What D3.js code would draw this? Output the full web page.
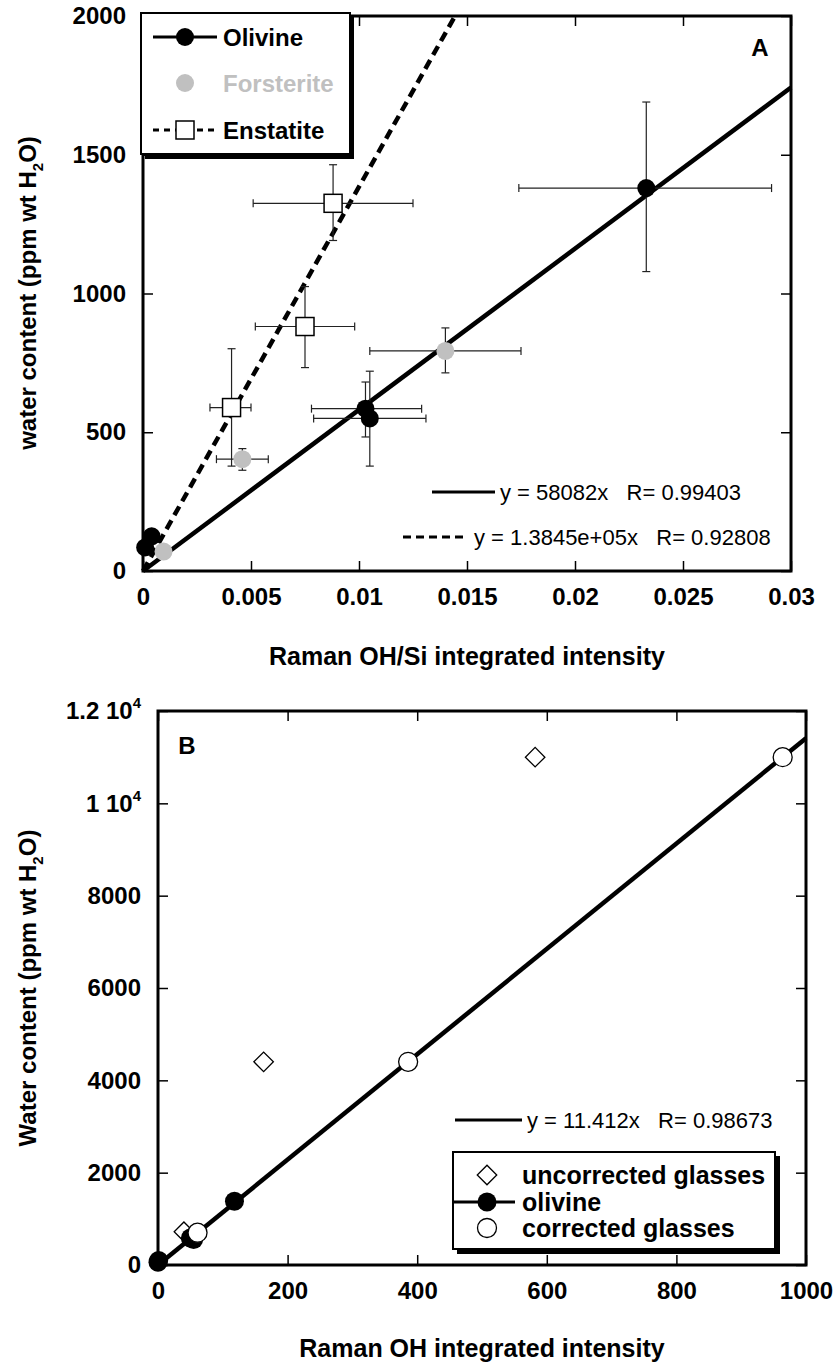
<!DOCTYPE html>
<html>
<head>
<meta charset="utf-8">
<script src="https://cdn.jsdelivr.net/npm/d3@7"></script>
<style>
body { margin: 0; background: #fff; }
svg { display: block; font-family: "Liberation Sans", Arial, sans-serif; }
</style>
</head>
<body>
<script>
// ---- panel A data : [x, y, xLow, xHigh, yLow, yHigh] ----
var olivineA = [
  [0.0001, 85], [0.0004, 125],
  [0.0103, 585, 0.0078, 0.0129, 483, 681],
  [0.0105, 550, 0.0079, 0.0131, 378, 720],
  [0.0233, 1380, 0.0174, 0.0291, 1079, 1690]
];
var forsteriteA = [
  [0.00095, 70],
  [0.0046, 403, 0.0034, 0.0058, 363, 441],
  [0.0140, 793, 0.0105, 0.0175, 714, 876]
];
var enstatiteA = [
  [0.0041, 589, 0.0031, 0.0050, 378, 801],
  [0.0075, 881, 0.0052, 0.0098, 733, 1025],
  [0.0088, 1325, 0.0051, 0.0125, 1191, 1464]
];
var slopeOlivineA = 58082;
var slopeEnstatiteA = 1.3845e5;
var xTicksA = [0, 0.005, 0.01, 0.015, 0.02, 0.025, 0.03];
var xTickLabelsA = ["0", "0.005", "0.01", "0.015", "0.02", "0.025", "0.03"];
var yTicksA = [0, 500, 1000, 1500, 2000];
var yTickLabelsA = ["0", "500", "1000", "1500", "2000"];

// ---- panel B data : [x, y] ----
var uncorrectedB = [[40, 720], [163, 4400], [582, 11000]];
var olivineB = [[0, 60], [1, 100], [50, 585], [55, 550], [118, 1380]];
var correctedB = [[61, 700], [386, 4400], [964, 11000]];
var slopeB = 11.412;
var xTicksB = [0, 200, 400, 600, 800, 1000];
var xTickLabelsB = ["0", "200", "400", "600", "800", "1000"];
var yTicksB = [0, 2000, 4000, 6000, 8000, 10000, 12000];
var yTickLabelsB = ["0", "2000", "4000", "6000", "8000", "1 10^4", "1.2 10^4"];

var GRAY = "#c0c0c0";

var svg = d3.select("body").append("svg")
  .attr("width", 835)
  .attr("height", 1364);

// tick label with optional superscript written as "a^b"
function writeLabel(sel, s) {
  var parts = s.split("^");
  sel.text(parts[0]);
  if (parts.length > 1) {
    sel.append("tspan").attr("dy", -11).attr("font-size", 15).text(parts[1]);
  }
}

// four-sided frame with inner ticks
function drawFrame(g, x, y, xt, xl, yt, yl) {
  var x0 = x.range()[0], x1 = x.range()[1];
  var y0 = y.range()[0], y1 = y.range()[1];

  var axes = [
    [d3.axisBottom(x).tickValues(xt), "translate(0," + y0 + ")", xl],
    [d3.axisTop(x).tickValues(xt), "translate(0," + y1 + ")", null],
    [d3.axisLeft(y).tickValues(yt), "translate(" + x0 + ",0)", yl],
    [d3.axisRight(y).tickValues(yt), "translate(" + x1 + ",0)", null]
  ];
  axes.forEach(function(a) {
    var ax = a[0].tickSizeInner(-10).tickSizeOuter(0).tickPadding(17);
    var ag = g.append("g").attr("transform", a[1]).call(ax);
    ag.select(".domain").remove();
    ag.selectAll(".tick line").attr("stroke", "#000").attr("stroke-width", 1.5);
    var labels = a[2];
    ag.selectAll(".tick text")
      .attr("font-size", 24)
      .attr("font-weight", "bold")
      .attr("fill", "#000")
      .attr("font-family", "Liberation Sans, Arial, sans-serif")
      .each(function(d, i) {
        if (labels) writeLabel(d3.select(this), labels[i]);
        else d3.select(this).remove();
      });
  });

  g.append("rect")
    .attr("x", x0).attr("y", y1)
    .attr("width", x1 - x0).attr("height", y0 - y1)
    .attr("fill", "none").attr("stroke", "#000").attr("stroke-width", 3);
}

function errorBars(g, data, x, y) {
  data.forEach(function(d) {
    if (d.length < 6) return;
    var cx = x(d[0]), cy = y(d[1]);
    var eb = g.append("g").attr("stroke", "#222").attr("stroke-width", 1.2);
    eb.append("line").attr("x1", x(d[2])).attr("x2", x(d[3])).attr("y1", cy).attr("y2", cy);
    eb.append("line").attr("x1", x(d[2])).attr("x2", x(d[2])).attr("y1", cy - 4).attr("y2", cy + 4);
    eb.append("line").attr("x1", x(d[3])).attr("x2", x(d[3])).attr("y1", cy - 4).attr("y2", cy + 4);
    eb.append("line").attr("x1", cx).attr("x2", cx).attr("y1", y(d[4])).attr("y2", y(d[5]));
    eb.append("line").attr("x1", cx - 4).attr("x2", cx + 4).attr("y1", y(d[4])).attr("y2", y(d[4]));
    eb.append("line").attr("x1", cx - 4).attr("x2", cx + 4).attr("y1", y(d[5])).attr("y2", y(d[5]));
  });
}

function yTitle(g, cx, cy, first) {
  var t = g.append("text")
    .attr("transform", "translate(" + cx + "," + cy + ") rotate(-90)")
    .attr("text-anchor", "middle")
    .attr("font-size", 24)
    .attr("font-weight", "bold")
    .text(first + " content (ppm wt H");
  t.append("tspan").attr("dy", 7).attr("font-size", 15).text("2");
  t.append("tspan").attr("dy", -7).text("O)");
}

//*** panel A ***//
var xA = d3.scaleLinear().domain([0, 0.03]).range([143, 791]);
var yA = d3.scaleLinear().domain([0, 2000]).range([571, 16]);
var gA = svg.append("g");

drawFrame(gA, xA, yA, xTicksA, xTickLabelsA, yTicksA, yTickLabelsA);

// regression lines
gA.append("line")
  .attr("x1", xA(0)).attr("y1", yA(0))
  .attr("x2", xA(0.03)).attr("y2", yA(slopeOlivineA * 0.03))
  .attr("stroke", "#000").attr("stroke-width", 4.5);
gA.append("line")
  .attr("x1", xA(0)).attr("y1", yA(0))
  .attr("x2", xA(2000 / slopeEnstatiteA)).attr("y2", yA(2000))
  .attr("stroke", "#000").attr("stroke-width", 4.5)
  .attr("stroke-dasharray", "10,6");

errorBars(gA, enstatiteA, xA, yA);
errorBars(gA, forsteriteA, xA, yA);
errorBars(gA, olivineA, xA, yA);

gA.selectAll(".ens").data(enstatiteA).enter().append("rect")
  .attr("x", function(d) { return xA(d[0]) - 9; })
  .attr("y", function(d) { return yA(d[1]) - 9; })
  .attr("width", 18).attr("height", 18)
  .attr("fill", "#fff").attr("stroke", "#000").attr("stroke-width", 1.5);
gA.selectAll(".fo").data(forsteriteA).enter().append("circle")
  .attr("cx", function(d) { return xA(d[0]); })
  .attr("cy", function(d) { return yA(d[1]); })
  .attr("r", 9).attr("fill", GRAY);
gA.selectAll(".ol").data(olivineA).enter().append("circle")
  .attr("cx", function(d) { return xA(d[0]); })
  .attr("cy", function(d) { return yA(d[1]); })
  .attr("r", 9).attr("fill", "#000");

// fit annotations
gA.append("line").attr("x1", 432).attr("x2", 495).attr("y1", 492).attr("y2", 492)
  .attr("stroke", "#000").attr("stroke-width", 3);
gA.append("text").attr("x", 500).attr("y", 500).attr("font-size", 22)
  .style("white-space", "pre").text("y = 58082x   R= 0.99403");
gA.append("line").attr("x1", 403).attr("x2", 468).attr("y1", 537).attr("y2", 537)
  .attr("stroke", "#000").attr("stroke-width", 3).attr("stroke-dasharray", "8,5");
gA.append("text").attr("x", 474).attr("y", 545).attr("font-size", 22)
  .style("white-space", "pre").text("y = 1.3845e+05x   R= 0.92808");

gA.append("text").attr("x", 760).attr("y", 56).attr("text-anchor", "middle")
  .attr("font-size", 24).attr("font-weight", "bold").text("A");

// legend A
var legA = gA.append("g");
legA.append("rect").attr("x", 145).attr("y", 17).attr("width", 209).attr("height", 142).attr("fill", "#000");
legA.append("rect").attr("x", 141).attr("y", 13).attr("width", 209).attr("height", 141)
  .attr("fill", "#fff").attr("stroke", "#000").attr("stroke-width", 2);
legA.append("line").attr("x1", 153).attr("x2", 217).attr("y1", 37).attr("y2", 37)
  .attr("stroke", "#000").attr("stroke-width", 3);
legA.append("circle").attr("cx", 185).attr("cy", 37).attr("r", 9).attr("fill", "#000");
legA.append("circle").attr("cx", 185).attr("cy", 83).attr("r", 9).attr("fill", GRAY);
legA.append("line").attr("x1", 153).attr("x2", 217).attr("y1", 130).attr("y2", 130)
  .attr("stroke", "#000").attr("stroke-width", 3).attr("stroke-dasharray", "6,5");
legA.append("rect").attr("x", 176).attr("y", 121).attr("width", 18).attr("height", 18)
  .attr("fill", "#fff").attr("stroke", "#000").attr("stroke-width", 1.5);
[["Olivine", 37, "#000"], ["Forsterite", 83, GRAY], ["Enstatite", 130, "#000"]].forEach(function(e) {
  legA.append("text").attr("x", 223).attr("y", e[1] + 9)
    .attr("font-size", 24).attr("font-weight", "bold").attr("fill", e[2]).text(e[0]);
});

yTitle(gA, 36, 293, "water");
gA.append("text").attr("x", 467).attr("y", 665).attr("text-anchor", "middle")
  .attr("font-size", 25).attr("font-weight", "bold").text("Raman OH/Si integrated intensity");

//*** panel B ***//
var xB = d3.scaleLinear().domain([0, 1000]).range([158, 806]);
var yB = d3.scaleLinear().domain([0, 12000]).range([1265, 711]);
var gB = svg.append("g");

drawFrame(gB, xB, yB, xTicksB, xTickLabelsB, yTicksB, yTickLabelsB);

gB.append("line")
  .attr("x1", xB(0)).attr("y1", yB(0))
  .attr("x2", xB(1000)).attr("y2", yB(slopeB * 1000))
  .attr("stroke", "#000").attr("stroke-width", 4.5);

var diamond = d3.symbol().type(d3.symbolSquare).size(190);
gB.selectAll(".unc").data(uncorrectedB).enter().append("path")
  .attr("d", diamond)
  .attr("transform", function(d) { return "translate(" + xB(d[0]) + "," + yB(d[1]) + ") rotate(45)"; })
  .attr("fill", "#fff").attr("stroke", "#000").attr("stroke-width", 1.3);
gB.selectAll(".olb").data(olivineB).enter().append("circle")
  .attr("cx", function(d) { return xB(d[0]); })
  .attr("cy", function(d) { return yB(d[1]); })
  .attr("r", 9.5).attr("fill", "#000");
gB.selectAll(".cor").data(correctedB).enter().append("circle")
  .attr("cx", function(d) { return xB(d[0]); })
  .attr("cy", function(d) { return yB(d[1]); })
  .attr("r", 9.5).attr("fill", "#fff").attr("stroke", "#000").attr("stroke-width", 1.3);

gB.append("line").attr("x1", 455).attr("x2", 522).attr("y1", 1120).attr("y2", 1120)
  .attr("stroke", "#000").attr("stroke-width", 3);
gB.append("text").attr("x", 527).attr("y", 1128).attr("font-size", 22)
  .style("white-space", "pre").text("y = 11.412x   R= 0.98673");

gB.append("text").attr("x", 187).attr("y", 754).attr("text-anchor", "middle")
  .attr("font-size", 24).attr("font-weight", "bold").text("B");

// legend B
var legB = gB.append("g");
legB.append("rect").attr("x", 457).attr("y", 1156).attr("width", 323).attr("height", 98).attr("fill", "#000");
legB.append("rect").attr("x", 453).attr("y", 1152).attr("width", 322).attr("height", 97)
  .attr("fill", "#fff").attr("stroke", "#000").attr("stroke-width", 2);
legB.append("path").attr("d", diamond)
  .attr("transform", "translate(487,1175) rotate(45)")
  .attr("fill", "#fff").attr("stroke", "#000").attr("stroke-width", 1.3);
legB.append("line").attr("x1", 453).attr("x2", 515).attr("y1", 1202).attr("y2", 1202)
  .attr("stroke", "#000").attr("stroke-width", 3);
legB.append("circle").attr("cx", 487).attr("cy", 1202).attr("r", 9.5).attr("fill", "#000");
legB.append("circle").attr("cx", 487).attr("cy", 1228).attr("r", 9.5)
  .attr("fill", "#fff").attr("stroke", "#000").attr("stroke-width", 1.3);
[["uncorrected glasses", 1175], ["olivine", 1202], ["corrected glasses", 1228]].forEach(function(e) {
  legB.append("text").attr("x", 522).attr("y", e[1] + 9)
    .attr("font-size", 25).attr("font-weight", "bold").text(e[0]);
});

yTitle(gB, 36, 988, "Water");
gB.append("text").attr("x", 482).attr("y", 1357).attr("text-anchor", "middle")
  .attr("font-size", 25).attr("font-weight", "bold").text("Raman OH integrated intensity");
</script>
</body>
</html>
